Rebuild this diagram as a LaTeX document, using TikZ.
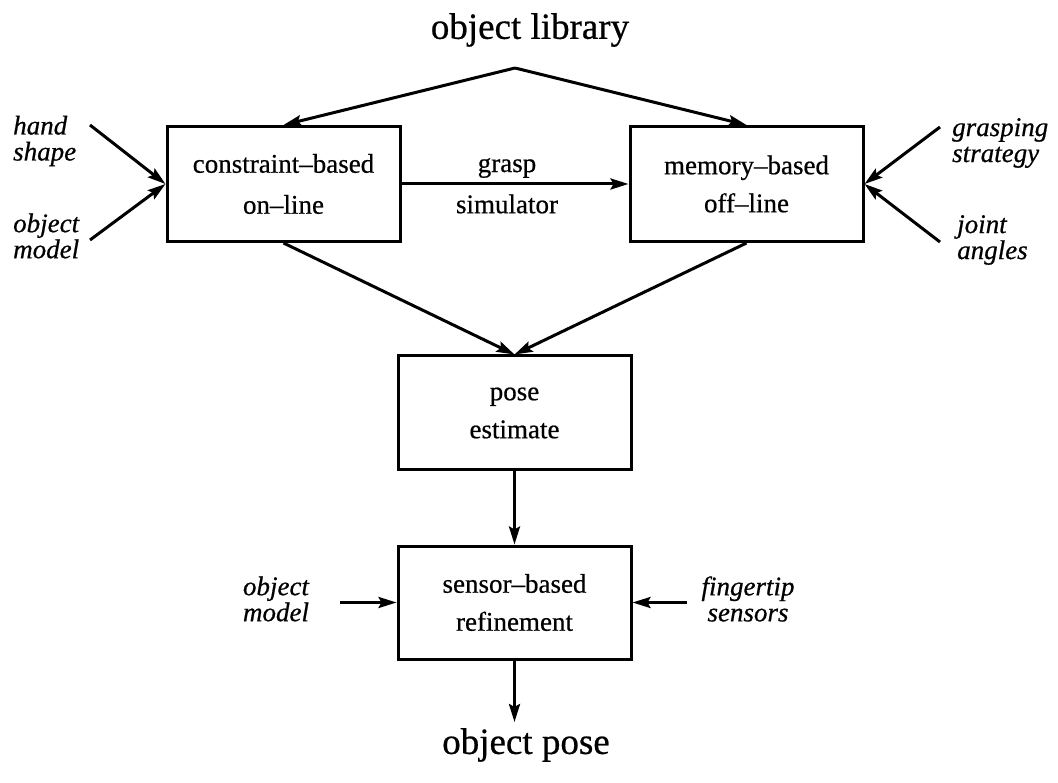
\documentclass[tikz,border=0pt]{standalone}
\usepackage{fontspec}
\setmainfont{Liberation Serif}[FakeBold=0.6]
\usetikzlibrary{arrows.meta}
\begin{document}
\begin{tikzpicture}[x=1pt,y=-1pt,
  box/.style={draw,line width=3pt,minimum width=233pt,minimum height=115pt,inner sep=0pt,align=center,font=\fontsize{27}{38}\selectfont},
  arr/.style={line width=3pt,-{Stealth[length=18pt,width=11pt,inset=3pt]}},
  lbl/.style={inner sep=0pt,font=\fontsize{27}{26}\selectfont\itshape},
  big/.style={inner sep=0pt,font=\fontsize{37}{40}\selectfont},
  mid/.style={inner sep=0pt,font=\fontsize{27}{30}\selectfont}]
\useasboundingbox[fill=white] (0,0) rectangle (1058,783);
% boxes
\node[box,font=\fontsize{27}{41}\selectfont] (con) at (283.5,184) {constraint--based\\on--line};
\node[box] (mem) at (746.5,184) {memory--based\\off--line};
\node[box,minimum height=114pt] (pose) at (514.5,413) {pose\\estimate};
\node[box,minimum height=113pt] (sen) at (514.5,602.5) {sensor--based\\refinement};
% titles
\node[big] (lib) at (530,30) {object library};
\node[big] (opose) at (526,745) {object pose};
% top arrows
\coordinate (apex) at (515,68);
\draw[arr] (apex) -- (con.north);
\draw[arr] (apex) -- (mem.north);
% grasp simulator
\draw[arr] (con.east) -- (mem.west);
\node[mid] (grasp) at (507,168) {grasp};
\node[mid] (sim) at (507,204) {simulator};
% to pose
\draw[arr] (con.south) -- (pose.north);
\draw[arr] (mem.south) -- (pose.north);
\draw[arr] (pose.south) -- (sen.north);
\coordinate (oend) at (514.5,722);
\draw[arr] (sen.south) -- (oend);
% left inputs
\coordinate (hs) at (90,125);
\coordinate (om) at (90,240);
\draw[arr] (hs) -- (con.west);
\draw[arr] (om) -- (con.west);
\node[lbl,anchor=west,align=left] (hand) at (13,141) {hand\\shape};
\node[lbl,anchor=west,align=left] (obj) at (13,236) {object\\model};
% right inputs
\coordinate (gs) at (940,127);
\coordinate (ja) at (940,242);
\draw[arr] (gs) -- (mem.east);
\draw[arr] (ja) -- (mem.east);
\node[lbl,anchor=west,align=left] (gstr) at (952,143) {grasping\\strategy};
\node[lbl,anchor=west,align=left] (joint) at (957,240) {joint\\angles};
% bottom side inputs
\coordinate (om2) at (340,602.5);
\coordinate (ft) at (687,602.5);
\draw[arr] (om2) -- (sen.west);
\draw[arr] (ft) -- (sen.east);
\node[lbl,align=center] (obj2) at (276,599) {object\\model};
\node[lbl,align=center] (fing) at (748,599) {fingertip\\sensors};
\end{tikzpicture}
\end{document}
